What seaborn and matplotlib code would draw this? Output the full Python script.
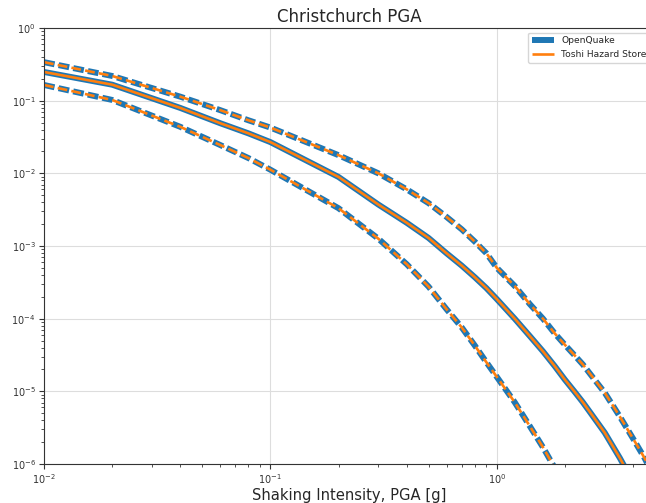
import numpy as np
import pandas as pd
import matplotlib
matplotlib.use("Agg")
import matplotlib.pyplot as plt
import seaborn as sns

# Shaking intensity levels (g)
levels = [0.01, 0.02, 0.04, 0.06, 0.08, 0.1, 0.2, 0.3, 0.4, 0.5, 0.6, 0.7, 0.8,
          0.9, 1.0, 1.2, 1.4, 1.6, 1.8, 2.0, 2.2, 2.4, 2.6, 2.8, 3.0, 3.5, 4.0,
          4.5, 5.0]

# log10 of annual probability of exceedance
upper_log = [-0.47, -0.66, -0.945, -1.13, -1.27, -1.37, -1.75, -2.0, -2.22,
             -2.41, -2.6, -2.77, -2.94, -3.1, -3.30, -3.55, -3.8, -4.0, -4.2,
             -4.36, -4.5, -4.63, -4.77, -4.9, -5.02, -5.35, -5.65, -5.92, -6.2]
mean_log = [-0.605, -0.78, -1.10, -1.31, -1.45, -1.57, -2.05, -2.43, -2.68,
            -2.89, -3.1, -3.27, -3.43, -3.58, -3.73, -4.0, -4.24, -4.45, -4.65,
            -4.84, -5.0, -5.15, -5.3, -5.44, -5.57, -5.92, -6.25, -6.6, -6.9]
lower_log = [-0.784, -0.99, -1.36, -1.61, -1.79, -1.95, -2.48, -2.9, -3.25,
             -3.56, -3.87, -4.12, -4.37, -4.6, -4.8, -5.15, -5.48, -5.77, -6.05,
             -6.3, -6.55, -6.8, -7.0, -7.2, -7.4, -7.9, -8.3, -8.7, -9.0]

series = {
    "upper": (upper_log, "--"),
    "mean": (mean_log, "-"),
    "lower": (lower_log, "--"),
}

sns.set_style("whitegrid")
plt.rcParams.update({
    "axes.edgecolor": "#333333",
    "xtick.bottom": True, "ytick.left": True,
    "xtick.minor.visible": True, "ytick.minor.visible": True,
    "xtick.color": "#333333", "ytick.color": "#333333",
    "xtick.labelsize": 7, "ytick.labelsize": 7,
    "grid.color": "#dddddd",
})
plt.rcParams["font.family"] = ["DejaVu Sans"]

fig = plt.figure(figsize=(6.46, 5.03), dpi=100)
ax = fig.add_axes([44 / 646, 1 - 464 / 503, (655 - 44) / 646, (464 - 28) / 503])

blue = "#1f77b4"
orange = "#ff7f0e"

for name, (vals, ls) in series.items():
    df = pd.DataFrame({"x": levels, "y": 10 ** np.array(vals)})
    sns.lineplot(data=df, x="x", y="y", ax=ax, color=blue, lw=4.3, ls=ls,
                 solid_capstyle="butt", dash_capstyle="butt",
                 label="OpenQuake" if name == "mean" else None)
for name, (vals, ls) in series.items():
    df = pd.DataFrame({"x": levels, "y": 10 ** np.array(vals)})
    sns.lineplot(data=df, x="x", y="y", ax=ax, color=orange, lw=1.9, ls=ls,
                 solid_capstyle="butt", dash_capstyle="butt",
                 label="Toshi Hazard Store" if name == "mean" else None)

for line in ax.get_lines():
    if line.get_linestyle() == "--":
        if line.get_color() == blue:
            line.set_dashes((1.8, 0.7))
        else:
            line.set_dashes((3.7, 1.6))

ax.set_xscale("log")
ax.set_yscale("log")
ax.set_xlim(0.01, 5)
ax.set_ylim(1e-6, 1)
ax.set_xlabel("Shaking Intensity, PGA [g]", fontsize=10.6, labelpad=1)
ax.set_ylabel("")
ax.set_title("Christchurch PGA", fontsize=12, pad=4)
ax.grid(True, which="major")
ax.grid(False, which="minor")
ax.tick_params(which="major", length=3.5, width=0.8, pad=2.5)
ax.tick_params(which="minor", length=2, width=0.6)

ax.legend(loc="upper right", fontsize=6.6, handlelength=2.4, frameon=True)

fig.savefig("out.png", dpi=100)
